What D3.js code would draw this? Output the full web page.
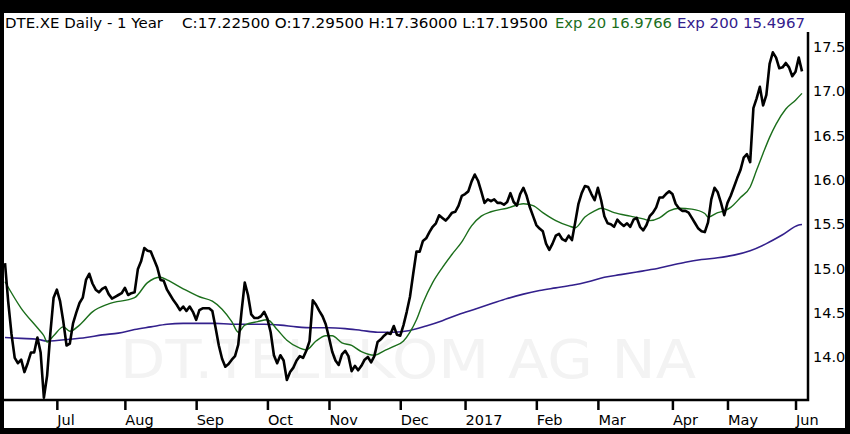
<!DOCTYPE html>
<html>
<head>
<meta charset="utf-8">
<script src="https://cdn.jsdelivr.net/npm/d3@7"></script>
<style>
  body { margin: 0; background: #000; }
  svg { display: block; }
</style>
</head>
<body>
<script>
const w = 850
const h = 434

// daily closes, Jun 2016 -> Jun 2017 (one per trading day)
const closes = [
  15.06, 14.62, 14.26, 13.99, 13.93, 13.97, 13.83, 13.93, 14.05, 14.05,
  14.22, 14.05, 13.54, 13.79, 14.27, 14.67, 14.76, 14.63, 14.40, 14.13,
  14.15, 14.38, 14.50, 14.61, 14.67, 14.87, 14.94, 14.83, 14.76, 14.73,
  14.77, 14.79, 14.71, 14.66, 14.68, 14.70, 14.72, 14.78, 14.70, 14.72,
  14.73, 14.99, 15.08, 15.23, 15.20, 15.19, 15.10, 15.01, 14.87, 14.86,
  14.76, 14.70, 14.64, 14.59, 14.53, 14.57, 14.52, 14.57, 14.51, 14.42,
  14.53, 14.55, 14.55, 14.55, 14.52, 14.33, 14.13, 13.98, 13.89, 13.92,
  13.97, 14.01, 14.14, 14.51, 14.84, 14.70, 14.48, 14.44, 14.44, 14.46,
  14.51, 14.43, 14.28, 14.02, 13.93, 14.02, 13.96, 13.74, 13.83, 13.88,
  13.96, 14.01, 13.99, 14.07, 14.18, 14.64, 14.59, 14.52, 14.46, 14.37,
  14.22, 14.06, 13.96, 13.91, 14.03, 14.07, 14.01, 13.84, 13.90, 13.85,
  13.90, 13.97, 14.00, 13.94, 14.01, 14.17, 14.20, 14.24, 14.27, 14.26,
  14.35, 14.25, 14.24, 14.36, 14.51, 14.68, 14.94, 15.19, 15.19, 15.31,
  15.34, 15.41, 15.47, 15.51, 15.60, 15.57, 15.54, 15.58, 15.63, 15.64,
  15.71, 15.82, 15.84, 15.87, 15.98, 16.06, 15.99, 15.87, 15.74, 15.78,
  15.76, 15.78, 15.74, 15.74, 15.72, 15.75, 15.85, 15.75, 15.71, 15.84,
  15.91, 15.82, 15.69, 15.59, 15.49, 15.45, 15.42, 15.28, 15.21, 15.28,
  15.37, 15.39, 15.33, 15.31, 15.37, 15.32, 15.52, 15.73, 15.85, 15.93,
  15.92, 15.84, 15.77, 15.91, 15.77, 15.59, 15.51, 15.50, 15.47, 15.55,
  15.51, 15.48, 15.51, 15.47, 15.55, 15.57, 15.47, 15.43, 15.49, 15.59,
  15.63, 15.69, 15.80, 15.80, 15.84, 15.87, 15.84, 15.73, 15.68, 15.65,
  15.65, 15.63, 15.57, 15.51, 15.45, 15.42, 15.41, 15.52, 15.78, 15.91,
  15.86, 15.74, 15.60, 15.74, 15.82, 15.92, 16.02, 16.11, 16.25, 16.29,
  16.20, 16.81, 16.92, 17.05, 16.84, 16.96, 17.31, 17.44, 17.38, 17.26,
  17.27, 17.32, 17.27, 17.17, 17.22, 17.38, 17.225
]

// exponential averages at these trading-day positions
const ema20Idx = [0, 5, 10, 12, 13, 15, 18, 20, 23, 27, 32, 40, 44, 48, 50, 55, 60, 64, 67, 70,
  72, 74, 78, 81, 84, 87, 91, 93, 96, 99, 101, 104, 107, 110, 114, 117, 120, 123, 125, 127,
  129, 132, 135, 138, 141, 144, 147, 150, 155, 160, 163, 166, 170, 174, 176, 179, 182, 184, 188, 193,
  197, 199, 202, 205, 208, 212, 216, 217, 220, 222, 224, 227, 230, 232, 234, 236, 238, 241, 244, 246]
const ema20 = [14.85, 14.55, 14.33, 14.24, 14.17, 14.24, 14.34, 14.29, 14.36, 14.51, 14.60, 14.67, 14.84, 14.90, 14.87, 14.77, 14.68, 14.63, 14.54, 14.40,
  14.28, 14.36, 14.40, 14.42, 14.31, 14.19, 14.10, 14.08, 14.18, 14.24, 14.24, 14.16, 14.13, 14.06, 14.02, 14.07, 14.12, 14.18, 14.28, 14.42,
  14.61, 14.84, 15.01, 15.16, 15.30, 15.48, 15.59, 15.64, 15.68, 15.73, 15.71, 15.63, 15.54, 15.48, 15.46, 15.58, 15.65, 15.68, 15.63, 15.59,
  15.56, 15.54, 15.57, 15.65, 15.68, 15.67, 15.62, 15.58, 15.63, 15.65, 15.69, 15.80, 15.92, 16.11, 16.30, 16.48, 16.63, 16.80, 16.90, 16.9766]

const ema200Idx = [0, 5, 10, 13, 20, 25, 30, 35, 40, 45, 50, 55, 60, 65, 70, 75, 80, 85, 90, 95,
  100, 105, 110, 115, 120, 125, 130, 135, 140, 145, 150, 155, 160, 165, 170, 175, 180, 185, 190, 195,
  200, 205, 210, 215, 220, 225, 230, 235, 240, 245, 246]
const ema200 = [14.22, 14.21, 14.20, 14.18, 14.20, 14.22, 14.25, 14.27, 14.31, 14.34, 14.37, 14.38, 14.38, 14.38, 14.37, 14.37, 14.37, 14.36, 14.34, 14.33,
  14.33, 14.32, 14.30, 14.28, 14.28, 14.30, 14.35, 14.41, 14.48, 14.54, 14.60, 14.66, 14.71, 14.75, 14.78, 14.81, 14.85, 14.90, 14.93, 14.96,
  14.99, 15.03, 15.07, 15.10, 15.12, 15.15, 15.20, 15.28, 15.38, 15.49, 15.4967]

const monthIdx = [16, 37, 59, 81, 100, 122, 142, 164, 183, 206, 223, 244]
const monthLabels = ["Jul", "Aug", "Sep", "Oct", "Nov", "Dec", "2017", "Feb", "Mar", "Apr", "May", "Jun"]
const yTicks = [14.0, 14.5, 15.0, 15.5, 16.0, 16.5, 17.0, 17.5]

const plot = { left: 4, right: 808, top: 32, bottom: 400 }
const green = "#1b6e1b"
const purple = "#33208c"

const svg = d3.select('body')
    .append('svg')
    .attr('width', w)
    .attr('height', h)

// white panel inside the black border
svg.append('rect')
    .attr('x', 4).attr('y', 13)
    .attr('width', 841).attr('height', 415)
    .attr('fill', 'white')

const x = d3.scaleLinear().domain([0, closes.length - 1]).range([5, 802])
const y = d3.scaleLinear().domain([14.0, 17.5]).range([357, 47])

svg.append('clipPath').attr('id', 'clip')
    .append('rect')
    .attr('x', plot.left).attr('y', plot.top)
    .attr('width', plot.right - plot.left).attr('height', plot.bottom - plot.top)

// faint watermark
svg.append('text')
    .attr('x', 120)
    .attr('y', 378)
    .attr('font-family', 'DejaVu Sans, sans-serif')
    .attr('font-size', 53)
    .attr('textLength', 576)
    .attr('lengthAdjust', 'spacingAndGlyphs')
    .attr('fill', '#f3f3f3')
    .text('DT.TELEKOM AG NA')

const g = svg.append('g').attr('clip-path', 'url(#clip)')

const lineIdx = (idx, vals) => d3.line()
    .x((d, i) => x(idx[i]))
    .y(d => y(d))
    .curve(d3.curveMonotoneX)(vals)

g.append('path')
    .attr('d', lineIdx(ema200Idx, ema200))
    .attr('fill', 'none')
    .attr('stroke', purple)
    .attr('stroke-width', 1.6)

g.append('path')
    .attr('d', lineIdx(ema20Idx, ema20))
    .attr('fill', 'none')
    .attr('stroke', green)
    .attr('stroke-width', 1.4)

g.append('path')
    .datum(closes)
    .attr('d', d3.line().x((d, i) => x(i)).y(d => y(d)))
    .attr('fill', 'none')
    .attr('stroke', '#000')
    .attr('stroke-width', 2.6)
    .attr('stroke-linejoin', 'round')

// frame: bottom and right only
svg.append('path')
    .attr('d', `M${plot.left},${plot.bottom}H${plot.right}V${plot.top}`)
    .attr('fill', 'none')
    .attr('stroke', '#000')
    .attr('stroke-width', 2.5)

const xAxis = svg.append('g')
    .attr('transform', `translate(0,${plot.bottom})`)
    .call(d3.axisBottom(x)
        .tickValues(monthIdx)
        .tickSize(10)
        .tickFormat((d, i) => monthLabels[i]))
xAxis.select('.domain').remove()
xAxis.selectAll('line').attr('stroke', '#000').attr('stroke-width', 2.5)
xAxis.selectAll('text')
    .attr('text-anchor', 'start')
    .attr('y', 15)
    .attr('font-family', 'DejaVu Sans, sans-serif')
    .attr('font-size', 14.5)
    .attr('fill', '#000')

const yAxis = svg.append('g')
    .attr('transform', `translate(${plot.right},0)`)
    .call(d3.axisRight(y)
        .tickValues(yTicks)
        .tickSize(0)
        .tickPadding(5)
        .tickFormat(d3.format('.1f')))
yAxis.select('.domain').remove()
yAxis.selectAll('text')
    .attr('font-family', 'DejaVu Sans, sans-serif')
    .attr('font-size', 14.5)
    .attr('fill', '#000')

// header line
const header = [
    { t: 'DTE.XE Daily -  1 Year', x0: 5, x1: 163, c: '#000' },
    { t: 'C:17.22500 O:17.29500 H:17.36000 L:17.19500', x0: 182, x1: 548, c: '#000' },
    { t: 'Exp 20 16.9766', x0: 555, x1: 672, c: green },
    { t: 'Exp 200 15.4967', x0: 677, x1: 805, c: purple }
]
svg.selectAll('text.hdr')
    .data(header)
    .enter()
    .append('text')
    .attr('class', 'hdr')
    .attr('x', d => d.x0)
    .attr('y', 28)
    .attr('textLength', d => d.x1 - d.x0)
    .attr('lengthAdjust', 'spacingAndGlyphs')
    .attr('font-family', 'DejaVu Sans, sans-serif')
    .attr('font-size', 14)
    .attr('fill', d => d.c)
    .text(d => d.t)
</script>
</body>
</html>
